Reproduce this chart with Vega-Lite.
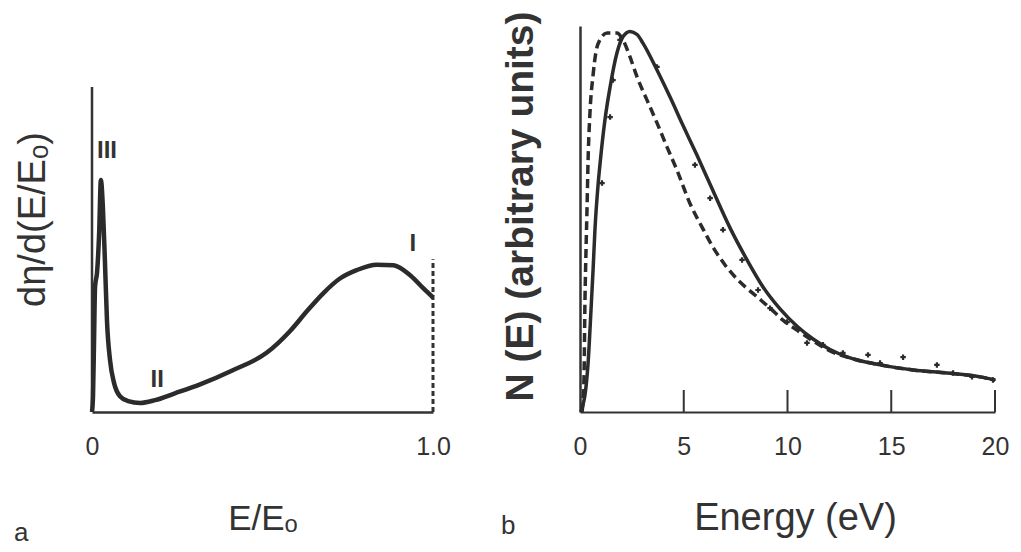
{
  "$schema": "https://vega.github.io/schema/vega-lite/v6.json",
  "background": "white",
  "padding": {"left": 14, "top": 10, "right": 5, "bottom": 5},
  "bounds": "flush",
  "spacing": 147,
  "config": {
    "view": {"stroke": null},
    "font": "Liberation Sans",
    "axis": {"grid": false, "labelColor": "#333", "titleColor": "#333", "domainColor": "#333"},
    "title": {"color": "#333"}
  },
  "datasets": {
    "curveA": [
      {"x": 0, "y": 0}, {"x": 0.003, "y": 0.049}, {"x": 0.006, "y": 0.221}, {"x": 0.009, "y": 0.39},
      {"x": 0.015, "y": 0.436}, {"x": 0.021, "y": 0.558}, {"x": 0.026, "y": 0.721}, {"x": 0.032, "y": 0.635},
      {"x": 0.038, "y": 0.466}, {"x": 0.044, "y": 0.282}, {"x": 0.053, "y": 0.16}, {"x": 0.065, "y": 0.089},
      {"x": 0.082, "y": 0.049}, {"x": 0.106, "y": 0.034}, {"x": 0.141, "y": 0.028}, {"x": 0.185, "y": 0.037},
      {"x": 0.243, "y": 0.058}, {"x": 0.317, "y": 0.086}, {"x": 0.413, "y": 0.13}, {"x": 0.512, "y": 0.184},
      {"x": 0.581, "y": 0.252}, {"x": 0.63, "y": 0.313}, {"x": 0.678, "y": 0.369}, {"x": 0.727, "y": 0.415},
      {"x": 0.776, "y": 0.441}, {"x": 0.835, "y": 0.458}, {"x": 0.884, "y": 0.456}, {"x": 0.933, "y": 0.425},
      {"x": 0.972, "y": 0.384}, {"x": 1.0, "y": 0.356}
    ],
    "labelsA": [
      {"x": 0.044, "y": 0.81, "t": "III"},
      {"x": 0.191, "y": 0.098, "t": "II"},
      {"x": 0.941, "y": 0.521, "t": "I"}
    ],
    "solidB": [
      {"E": 0.05, "N": 0}, {"E": 0.14, "N": 0.018}, {"E": 0.24, "N": 0.044}, {"E": 0.39, "N": 0.127},
      {"E": 0.53, "N": 0.264}, {"E": 0.63, "N": 0.368}, {"E": 0.72, "N": 0.472}, {"E": 0.87, "N": 0.588},
      {"E": 0.96, "N": 0.64}, {"E": 1.2, "N": 0.756}, {"E": 1.45, "N": 0.842}, {"E": 1.78, "N": 0.93},
      {"E": 2.07, "N": 0.972}, {"E": 2.41, "N": 0.986}, {"E": 2.75, "N": 0.978}, {"E": 3.04, "N": 0.955},
      {"E": 3.71, "N": 0.886}, {"E": 4.34, "N": 0.816}, {"E": 4.96, "N": 0.743}, {"E": 5.64, "N": 0.665},
      {"E": 6.41, "N": 0.573}, {"E": 7.23, "N": 0.477}, {"E": 8.05, "N": 0.394}, {"E": 8.82, "N": 0.324},
      {"E": 9.64, "N": 0.267}, {"E": 10.46, "N": 0.222}, {"E": 11.23, "N": 0.189}, {"E": 12.05, "N": 0.162},
      {"E": 12.87, "N": 0.143}, {"E": 14.46, "N": 0.122}, {"E": 16.05, "N": 0.109}, {"E": 17.69, "N": 0.101},
      {"E": 19.28, "N": 0.091}, {"E": 20.0, "N": 0.083}
    ],
    "dashB": [
      {"E": 0.1, "N": 0}, {"E": 0.19, "N": 0.083}, {"E": 0.24, "N": 0.29}, {"E": 0.29, "N": 0.42},
      {"E": 0.34, "N": 0.531}, {"E": 0.39, "N": 0.653}, {"E": 0.48, "N": 0.775}, {"E": 0.63, "N": 0.873},
      {"E": 0.77, "N": 0.933}, {"E": 0.96, "N": 0.964}, {"E": 1.3, "N": 0.982}, {"E": 1.78, "N": 0.982},
      {"E": 2.07, "N": 0.964}, {"E": 2.41, "N": 0.92}, {"E": 2.75, "N": 0.868}, {"E": 3.23, "N": 0.808},
      {"E": 3.71, "N": 0.749}, {"E": 4.19, "N": 0.687}, {"E": 4.67, "N": 0.627}, {"E": 5.3, "N": 0.54},
      {"E": 5.88, "N": 0.479}, {"E": 6.41, "N": 0.427}, {"E": 6.99, "N": 0.381}, {"E": 7.61, "N": 0.342},
      {"E": 8.43, "N": 0.303}, {"E": 9.16, "N": 0.269}, {"E": 9.78, "N": 0.238}, {"E": 10.46, "N": 0.212},
      {"E": 11.23, "N": 0.184}, {"E": 12.05, "N": 0.158}, {"E": 13.01, "N": 0.14}, {"E": 14.46, "N": 0.122},
      {"E": 16.05, "N": 0.109}, {"E": 17.69, "N": 0.101}, {"E": 19.28, "N": 0.091}, {"E": 20.0, "N": 0.083}
    ],
    "ptsB": [
      {"E": 1.06, "N": 0.593}, {"E": 1.45, "N": 0.764}, {"E": 1.59, "N": 0.86}, {"E": 1.93, "N": 0.964},
      {"E": 3.71, "N": 0.894}, {"E": 5.54, "N": 0.64}, {"E": 6.27, "N": 0.554}, {"E": 6.89, "N": 0.472},
      {"E": 7.81, "N": 0.394}, {"E": 8.58, "N": 0.316}, {"E": 9.16, "N": 0.269}, {"E": 9.98, "N": 0.233},
      {"E": 10.94, "N": 0.179}, {"E": 11.71, "N": 0.174}, {"E": 12.67, "N": 0.153}, {"E": 13.88, "N": 0.148},
      {"E": 14.46, "N": 0.127}, {"E": 15.57, "N": 0.142}, {"E": 17.2, "N": 0.122}, {"E": 17.98, "N": 0.101},
      {"E": 18.89, "N": 0.091}, {"E": 19.9, "N": 0.083}
    ],
    "ticksB": [{"E": 5}, {"E": 10}, {"E": 15}, {"E": 20}]
  },
  "hconcat": [
    {
      "width": 341,
      "height": 386,
      "title": {"text": "a", "orient": "bottom", "anchor": "start", "frame": "bounds", "fontSize": 26, "fontWeight": "normal", "offset": -16},
      "layer": [
        {
          "data": {"values": [{}]},
          "mark": {"type": "rule", "color": "#333", "strokeWidth": 2.5},
          "encoding": {"x": {"datum": 0, "type": "quantitative"}, "y": {"datum": 0, "type": "quantitative"}, "y2": {"datum": 1.01}}
        },
        {
          "data": {"values": [{}]},
          "mark": {"type": "rule", "color": "#333", "strokeWidth": 3, "strokeDash": [5, 3]},
          "encoding": {"x": {"datum": 1, "type": "quantitative"}, "y": {"datum": 0, "type": "quantitative"}, "y2": {"datum": 0.475}}
        },
        {
          "data": {"name": "curveA"},
          "mark": {"type": "line", "color": "#2b2b2b", "strokeWidth": 4.5, "interpolate": "monotone"},
          "encoding": {
            "x": {
              "field": "x", "type": "quantitative",
              "scale": {"domain": [0, 1]},
              "axis": {"values": [0, 1], "labelExpr": "datum.value == 0 ? '0' : '1.0'", "ticks": false, "domainWidth": 2.5, "labelFontSize": 25, "labelPadding": 22, "labelFlush": false, "title": "E/Eₒ", "titleFontSize": 35, "titleFontWeight": "normal", "titlePadding": 42}
            },
            "y": {
              "field": "y", "type": "quantitative",
              "scale": {"domain": [0, 1.184]},
              "axis": {"domain": false, "ticks": false, "labels": false, "title": "dη/d(E/Eₒ)", "titleFontSize": 38, "titleFontWeight": "normal", "titlePadding": 40}
            }
          }
        },
        {
          "data": {"name": "labelsA"},
          "mark": {"type": "text", "fontSize": 24, "fontWeight": "bold", "color": "#333"},
          "encoding": {"x": {"field": "x", "type": "quantitative"}, "y": {"field": "y", "type": "quantitative"}, "text": {"field": "t"}}
        }
      ]
    },
    {
      "width": 415,
      "height": 386,
      "title": {"text": "b", "orient": "bottom", "anchor": "start", "frame": "bounds", "fontSize": 26, "fontWeight": "normal", "offset": -24},
      "layer": [
        {
          "data": {"name": "ticksB"},
          "mark": {"type": "rule", "color": "#333", "strokeWidth": 2},
          "encoding": {"x": {"field": "E", "type": "quantitative"}, "y": {"datum": 0, "type": "quantitative"}, "y2": {"datum": 0.057}}
        },
        {
          "data": {"name": "dashB"},
          "mark": {"type": "line", "color": "#2b2b2b", "strokeWidth": 3.5, "strokeDash": [9, 5], "interpolate": "monotone"},
          "encoding": {"x": {"field": "E", "type": "quantitative"}, "y": {"field": "N", "type": "quantitative"}}
        },
        {
          "data": {"name": "solidB"},
          "mark": {"type": "line", "color": "#2b2b2b", "strokeWidth": 3.5, "interpolate": "monotone"},
          "encoding": {
            "x": {
              "field": "E", "type": "quantitative",
              "scale": {"domain": [0, 20]},
              "axis": {"values": [0, 5, 10, 15, 20], "ticks": false, "domainWidth": 2, "labelFontSize": 25, "labelPadding": 22, "labelFlush": false, "title": "Energy (eV)", "titleFontSize": 38, "titleFontWeight": "normal", "titlePadding": 40, "titleX": 215}
            },
            "y": {
              "field": "N", "type": "quantitative",
              "scale": {"domain": [0, 1]},
              "axis": {"ticks": false, "labels": false, "domainWidth": 2.5, "title": "N (E) (arbitrary units)", "titleFontSize": 39, "titleFontWeight": "bold", "titlePadding": 40, "titleY": 180}
            }
          }
        },
        {
          "data": {"name": "ptsB"},
          "mark": {"type": "point", "shape": "cross", "filled": true, "size": 30, "color": "#2b2b2b", "opacity": 1},
          "encoding": {"x": {"field": "E", "type": "quantitative"}, "y": {"field": "N", "type": "quantitative"}}
        }
      ]
    }
  ]
}
